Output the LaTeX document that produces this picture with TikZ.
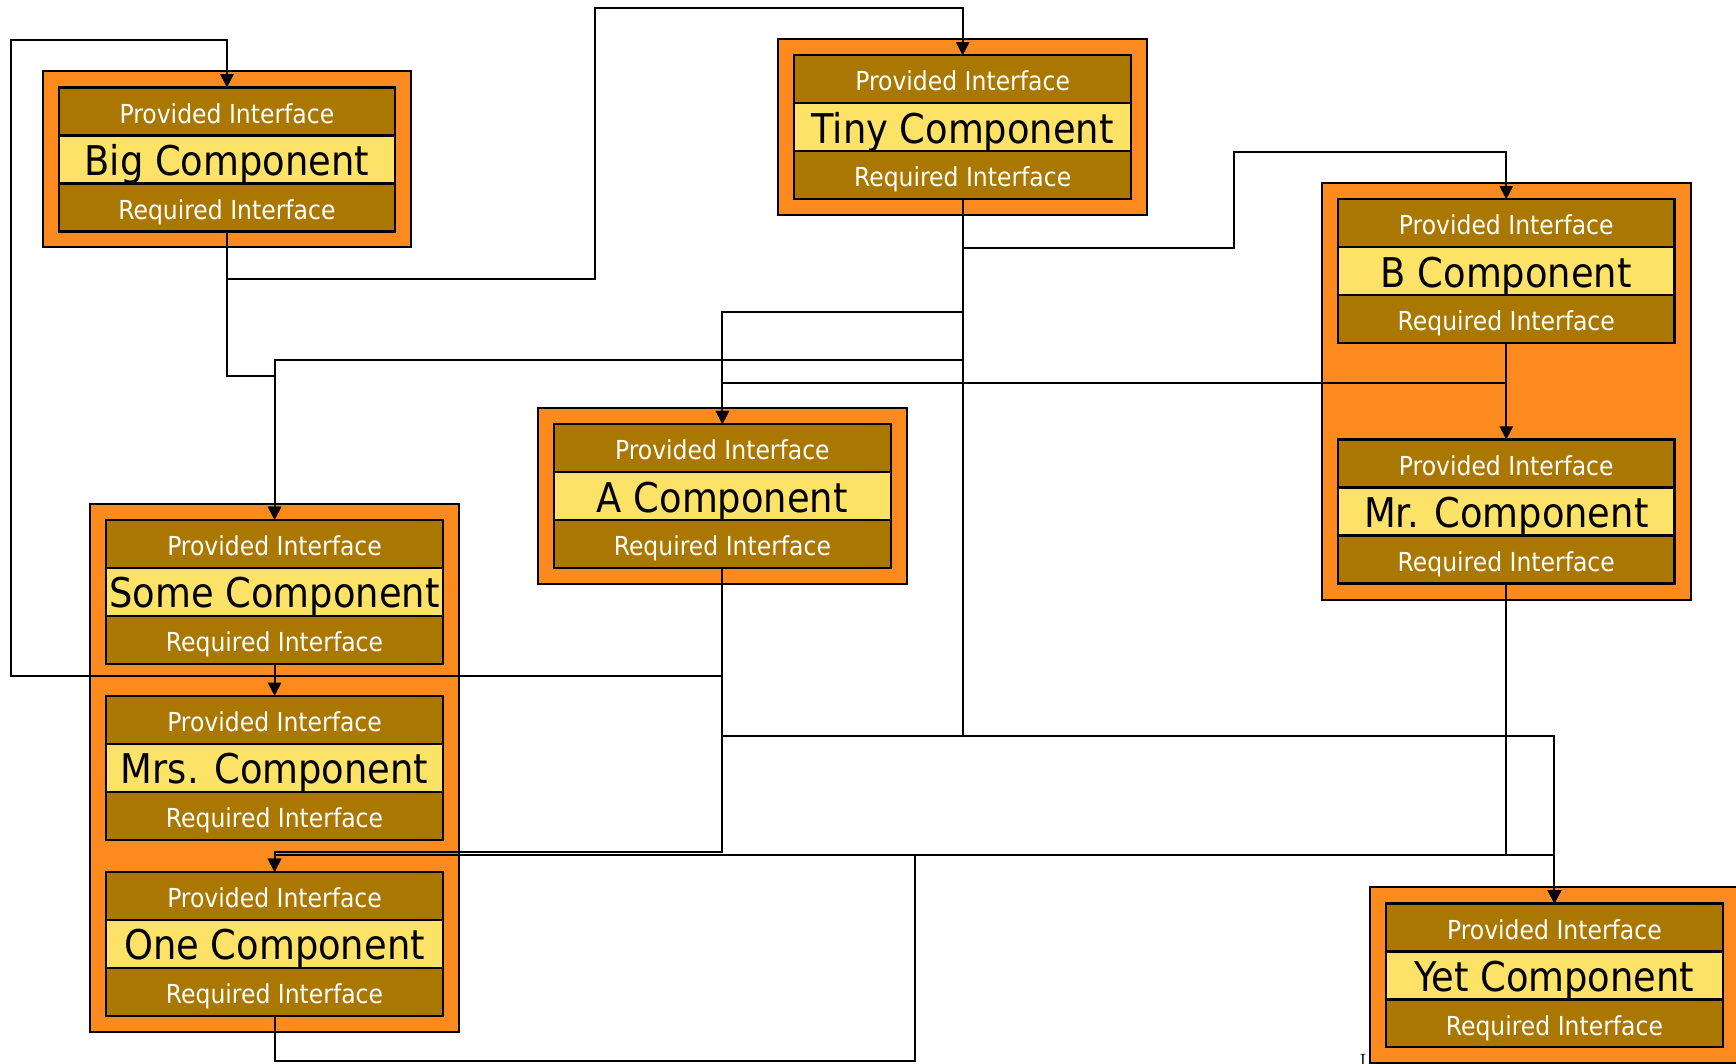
\documentclass[tikz,border=0pt]{standalone}
\usepackage{fontspec}
\newfontfamily\compfont{DejaVu Sans Condensed}
\usetikzlibrary{arrows.meta,fit,backgrounds}
\definecolor{outerorange}{HTML}{FD8A1E}
\definecolor{ifacebrown}{HTML}{AA7800}
\definecolor{nameyellow}{HTML}{FCE266}
\tikzset{
  sect/.style={draw=black, line width=2pt, minimum width=304pt, minimum height=43.333pt,
    inner sep=0pt, outer sep=0pt, anchor=center},
  iface/.style={sect, fill=ifacebrown, text=white,
    font=\compfont\fontsize{23.6}{28}\selectfont, text height=21pt, text depth=0pt},
  cname/.style={sect, fill=nameyellow, text=black,
    font=\compfont\fontsize{37}{44}\selectfont, text height=29pt, text depth=0pt},
  groupbox/.style={draw=black, line width=1.8pt, fill=outerorange, inner sep=14.5pt},
  conn/.style={draw=black, line width=1.8pt, -{Triangle[length=12pt,width=12pt]}},
}
\newcommand\mkcomp[4]{%
  \node[iface] (#1P) at ({#2},{#3+21.667}) {Provided Interface};
  \node[cname] (#1N) at ({#2},{#3+65}) {#4};
  \node[iface] (#1R) at ({#2},{#3+108.333}) {Required Interface};
}
\begin{document}
\begin{tikzpicture}[x=1pt,y=-1pt]
\useasboundingbox (0,0) rectangle (1568,961);
% components
\mkcomp{big}{205}{79}{Big Component}
\mkcomp{tiny}{869.5}{50}{Tiny Component}
\mkcomp{b}{1360.5}{180}{B Component}
\mkcomp{mr}{1360.5}{397}{Mr. Component}
\mkcomp{a}{652.5}{383}{A Component}
\mkcomp{some}{248}{469.5}{Some Component}
\mkcomp{mrs}{248}{628.5}{Mrs. Component}
\mkcomp{one}{248}{787.5}{One Component}
\mkcomp{yet}{1404}{816}{Yet Component}
\node[inner sep=0pt, anchor=north, font=\fontsize{20}{24}\selectfont] (frag) at (1231,952) {I};
% group boxes
\begin{pgfonlayer}{background}
\node[groupbox, fit=(bigP)(bigR)] (bigG) {};
\node[groupbox, fit=(tinyP)(tinyR)] (tinyG) {};
\node[groupbox, fit=(bP)(mrR)] (bmrG) {};
\node[groupbox, fit=(aP)(aR)] (aG) {};
\node[groupbox, fit=(someP)(oneR)] (someG) {};
\node[groupbox, fit=(yetP)(yetR)] (yetG) {};
\end{pgfonlayer}
% connectors
\draw[conn] (bigR.south) |- (537,252) -- (537,7) -| (tinyP.north);
\draw[conn] (bigR.south) |- (248,340) -- (someP.north);
\draw[conn] (tinyR.south) |- (248,325) -- (someP.north);
\draw[conn] (tinyR.south) |- (1115,224) -- (1115,137) -| (bP.north);
\draw[conn] (tinyR.south) |- (652.5,282) -- (aP.north);
\draw[conn] (tinyR.south) |- (1404,665) -- (yetP.north);
\draw[conn] (bR.south) -- (mrP.north);
\draw[conn] (bR.south) |- (652.5,346) -- (aP.north);
\draw[conn] (aR.south) |- (10,611) -- (10,36) -| (bigP.north);
\draw[conn] (aR.south) |- (1404,665) -- (yetP.north);
\draw[conn] (aR.south) |- (248,769.5) -- (oneP.north);
\draw[conn] (someR.south) -- (mrsP.north);
\draw[conn] (mrR.south) |- (248,772) -- (oneP.north);
\draw[conn] (oneR.south) |- (826,958) -- (826,772.5) -| (yetP.north);
\end{tikzpicture}
\end{document}
